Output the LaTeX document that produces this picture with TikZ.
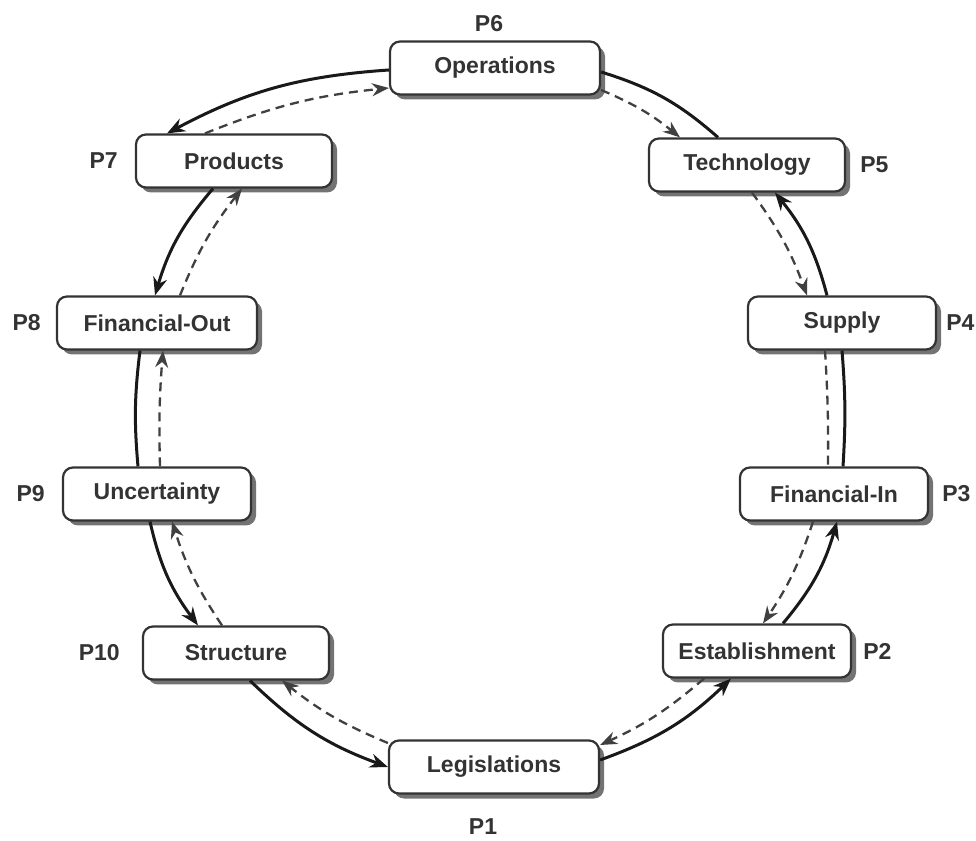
\documentclass[tikz,border=0pt]{standalone}
\usepackage{fontspec}
\setmainfont{Liberation Sans}
\usetikzlibrary{positioning,shadows,arrows.meta}

\begin{document}
\begin{tikzpicture}[x=1pt, y=1pt,
    phase/.style={draw=black!80, line width=2.2pt, rounded corners=10pt, fill=white,
      minimum height=53pt, inner sep=0pt, text=black!80,
      font=\fontsize{23}{27}\selectfont\bfseries,
      drop shadow={shadow xshift=5pt, shadow yshift=-5pt, fill=black!55, opacity=1}},
    tag/.style={inner sep=0pt, text=black!80, font=\fontsize{23}{27}\selectfont\bfseries},
    flow/.style={line width=3pt, black!90, -{Stealth[length=18pt,width=14pt]}},
    link/.style={line width=3pt, black!90},
    back/.style={line width=2.3pt, black!75, dash pattern=on 9pt off 6pt, -{Stealth[length=17pt,width=13pt]}},
    backlink/.style={line width=2.3pt, black!75, dash pattern=on 9pt off 6pt}]
    \useasboundingbox (0,0) rectangle (976,840);

    \node[phase, minimum width=210pt] (ops) at (495,772) {Operations};
    \node[phase, minimum width=196pt] (tech) at (747,675) {Technology};
    \node[phase, minimum width=188pt] (supply) at (842,517) {Supply};
    \node[phase, minimum width=188pt] (finin) at (834,346) {Financial-In};
    \node[phase, minimum width=188pt] (estab) at (757,189) {Establishment};
    \node[phase, minimum width=210pt] (legis) at (494,73) {Legislations};
    \node[phase, minimum width=186pt] (struct) at (236,187) {Structure};
    \node[phase, minimum width=188pt] (uncert) at (157,346) {Uncertainty};
    \node[phase, minimum width=200pt] (finout) at (157,517) {Financial-Out};
    \node[phase, minimum width=196pt] (prod) at (234,679) {Products};

    \node[tag, below=24pt of legis, xshift=-11pt] (p1) {P1};
    \node[tag, right=11pt of estab] (p2) {P2};
    \node[tag, right=13pt of finin] (p3) {P3};
    \node[tag, right=9pt of supply] (p4) {P4};
    \node[tag, right=14pt of tech] (p5) {P5};
    \node[tag, above=8pt of ops, xshift=-6pt] (p6) {P6};
    \node[tag, left=17pt of prod] (p7) {P7};
    \node[tag, left=15pt of finout] (p8) {P8};
    \node[tag, left=17pt of uncert] (p9) {P9};
    \node[tag, left=22pt of struct] (p10) {P10};

    % outer ring
    \draw[flow] ([xshift=14pt]struct.south) to[bend right=12] (legis.west);
    \draw[flow] ([yshift=7pt]legis.east) to[bend right=12] ([xshift=-26pt]estab.south);
    \draw[flow] ([xshift=26pt]estab.north) to[bend right=12] ([xshift=3pt]finin.south);
    \draw[link] ([xshift=9pt]finin.north) to[bend right=4] (supply.south);
    \draw[flow] ([xshift=-15pt]supply.north) to[bend right=12] ([xshift=28pt]tech.south);
    \draw[link] ([xshift=-29pt]tech.north) to[bend right=12] ([yshift=-4pt]ops.east);
    \draw[flow] ([yshift=-2pt]ops.west) to[bend right=12] ([xshift=-67pt]prod.north);
    \draw[flow] ([xshift=-21pt]prod.south) to[bend right=12] ([xshift=-2pt]finout.north);
    \draw[link] ([xshift=-17pt]finout.south) to[bend right=6] ([xshift=-19pt]uncert.north);
    \draw[flow] ([xshift=-7pt]uncert.south) to[bend right=12] ([xshift=-38pt]struct.north);

    % inner ring
    \draw[back] ([yshift=24pt]legis.west) to[bend left=8] ([xshift=46pt]struct.south);
    \draw[back] ([xshift=-53pt]estab.south) to[bend left=8] ([yshift=22pt]legis.east);
    \draw[back] ([xshift=-21pt]finin.south) to[bend left=8] ([xshift=6pt]estab.north);
    \draw[backlink] ([xshift=-17pt]supply.south) to[bend left=2] ([xshift=-6pt]finin.north);
    \draw[back] ([xshift=5pt]tech.south) to[bend left=8] ([xshift=-35pt]supply.north);
    \draw[back] ([yshift=-22pt]ops.east) to[bend left=8] ([xshift=-67pt]tech.north);
    \draw[back] ([xshift=-29pt]prod.north) to[bend left=8] ([yshift=-20pt]ops.west);
    \draw[back] ([xshift=23pt]finout.north) to[bend left=8] ([xshift=8pt]prod.south);
    \draw[back] ([xshift=3pt]uncert.north) to[bend left=3] ([xshift=6pt]finout.south);
    \draw[back] ([xshift=-14pt]struct.north) to[bend left=8] ([xshift=15pt]uncert.south);
\end{tikzpicture}
\end{document}
